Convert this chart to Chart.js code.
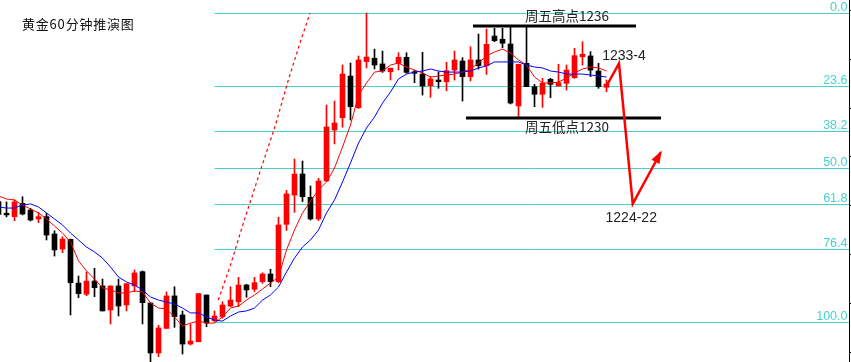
<!DOCTYPE html>
<html>
<head>
<meta charset="utf-8">
<script src="https://cdn.jsdelivr.net/npm/chart.js@4/dist/chart.umd.min.js"></script>
<style>
html,body{margin:0;padding:0;background:#fff;overflow:hidden}
canvas{display:block}
</style>
</head>
<body>
<canvas id="c" width="851" height="362"></canvas>
<script>
// ---------------- DATA ----------------
const title = '黄金60分钟推演图';
const firstIndex = -1; // index of the first (partly visible) hourly candle

const opens = [1224.55,1223.79,1223.57,1224.44,1224.00,1223.42,1223.57,1222.44,1221.46,1222.09,
  1219.24,1218.51,1219.37,1219.05,1217.48,1219.05,1217.81,1219.05,1219.98,1217.94,
  1214.68,1216.28,1218.40,1217.16,1215.26,1215.41,1218.46,1216.78,1217.05,1217.74,
  1218.02,1219.11,1218.83,1219.33,1219.83,1219.33,1223.07,1224.98,1226.35,1224.83,
  1223.42,1225.90,1229.22,1230.02,1232.74,1230.68,1233.68,1233.90,1233.53,1233.02,
  1233.56,1233.96,1233.02,1232.87,1232.11,1232.48,1232.37,1233.13,1233.72,1232.70,
  1233.79,1233.42,1235.35,1235.14,1234.83,1230.79,1233.57,1232.05,1231.55,1232.53,
  1232.09,1232.27,1232.63,1234.00,1234.05,1233.07,1232.01];
const highs = [1224.79,1224.53,1224.66,1224.87,1224.11,1223.85,1223.79,1222.65,1222.26,1222.11,
  1219.70,1219.96,1220.20,1219.50,1219.05,1219.50,1219.20,1220.09,1220.03,1217.94,
  1216.48,1218.66,1219.00,1217.42,1216.57,1218.55,1218.46,1217.42,1218.02,1219.00,
  1219.61,1219.16,1219.61,1219.91,1220.14,1223.53,1225.28,1227.33,1227.20,1225.57,
  1226.07,1230.85,1231.11,1233.46,1233.59,1234.05,1236.85,1234.50,1234.37,1233.25,
  1234.26,1234.26,1233.13,1234.29,1232.70,1233.02,1233.64,1234.37,1233.94,1234.65,
  1235.48,1235.81,1235.85,1235.85,1235.92,1233.51,1235.92,1232.20,1232.59,1232.59,
  1233.51,1233.46,1234.55,1234.98,1234.33,1233.57,1232.48];
const lows = [1223.68,1223.55,1223.31,1223.68,1223.29,1223.18,1222.05,1221.00,1221.22,1217.16,
  1218.28,1218.41,1218.35,1217.42,1216.57,1217.09,1217.42,1218.68,1216.57,1214.11,
  1214.44,1216.28,1216.35,1214.61,1215.20,1215.41,1216.39,1216.70,1216.94,1217.70,
  1217.70,1218.31,1218.68,1219.22,1219.00,1219.26,1222.67,1223.85,1224.55,1223.35,
  1223.31,1225.85,1228.31,1229.40,1229.87,1230.62,1233.27,1233.20,1232.98,1232.48,
  1233.13,1232.92,1232.31,1231.50,1231.35,1231.94,1231.78,1232.48,1231.11,1232.42,
  1233.20,1232.85,1234.98,1234.59,1230.92,1230.07,1232.05,1230.74,1230.70,1231.33,
  1232.09,1231.83,1232.59,1233.46,1232.70,1231.94,1231.72];
const closes = [1223.72,1223.68,1224.53,1223.74,1223.35,1223.57,1222.37,1221.40,1222.11,1219.26,
  1218.55,1219.37,1218.94,1217.42,1219.05,1217.74,1219.20,1219.90,1217.96,1214.68,
  1216.31,1218.40,1217.05,1215.26,1215.46,1218.55,1216.63,1217.09,1217.81,1218.13,
  1219.11,1218.79,1219.26,1219.83,1219.33,1223.03,1225.05,1226.35,1224.87,1223.42,
  1225.90,1229.42,1229.68,1232.87,1230.74,1233.79,1233.98,1233.46,1233.07,1233.25,
  1233.96,1232.98,1232.92,1232.09,1232.55,1232.37,1233.09,1233.79,1232.70,1233.79,
  1233.42,1234.81,1235.05,1234.88,1230.98,1233.51,1232.05,1231.55,1232.27,1232.20,
  1232.31,1233.13,1234.07,1234.16,1233.13,1232.05,1232.22];

// moving averages (red = fast, blue = slow)
const maFast = [1224.92,1224.72,1224.66,1224.33,1224.07,1223.81,1223.42,1222.96,1222.50,1221.92,
  1220.68,1220.03,1219.50,1218.92,1218.79,1218.59,1218.59,1218.72,1218.66,1217.94,
  1217.61,1217.55,1217.03,1216.44,1216.63,1216.76,1216.63,1216.63,1217.03,1217.61,
  1217.74,1218.13,1218.46,1218.85,1219.24,1219.63,1221.40,1222.70,1223.81,1224.59,
  1225.31,1225.83,1226.74,1228.11,1229.55,1231.50,1232.29,1233.00,1233.07,1233.46,
  1233.59,1233.33,1233.13,1232.94,1232.68,1232.74,1232.81,1232.87,1233.00,1233.20,
  1233.59,1234.05,1234.31,1234.50,1234.24,1233.79,1233.46,1232.68,1232.29,1232.29,
  1232.35,1232.61,1232.94,1233.20,1233.33,1233.27,1233.07];
const maSlow = [1224.20,1224.13,1224.13,1224.33,1224.40,1224.20,1223.81,1223.42,1223.03,1222.50,
  1222.05,1221.59,1221.27,1220.87,1220.29,1219.63,1219.31,1219.11,1218.79,1218.33,
  1218.13,1218.00,1217.87,1217.61,1217.29,1217.29,1217.03,1216.83,1216.76,1217.09,
  1217.35,1217.42,1217.61,1218.13,1218.46,1218.98,1219.96,1220.87,1221.59,1222.05,
  1222.70,1223.81,1224.66,1225.83,1227.07,1228.37,1229.35,1230.07,1230.98,1231.70,
  1232.55,1232.87,1233.00,1233.07,1233.20,1233.07,1233.00,1233.00,1233.00,1233.07,
  1233.27,1233.40,1233.66,1233.66,1233.66,1233.66,1233.46,1233.33,1233.27,1233.07,
  1233.00,1232.87,1232.87,1232.87,1232.81,1232.74,1232.68];

// Fibonacci retracement
const fibRatios = [0.0, 23.6, 38.2, 50.0, 61.8, 76.4, 100.0];
const fibHigh = 1236.85;
const fibLow = 1216.70;
const fibStartIndex = 26;

// right-axis tick marks (unlabelled)
const axisTickPrices = [1237.04, 1233.88, 1230.68, 1227.52, 1224.33, 1221.13, 1217.93, 1214.74];

// dashed red trend line
const trendX = [26.48, 27.94, 29.60, 31.90, 33.56, 35.23, 36.69, 37.94];
const trendY = [1218.13, 1220.31, 1223.14, 1226.83, 1229.44, 1232.48, 1234.90, 1236.85];

// forecast path (red arrow)
const forecastX = [75.00, 76.56, 78.28, 81.78];
const forecastY = [1232.09, 1233.57, 1224.40, 1227.77];

// Friday high / low
const fridayHigh = 1236, fridayLow = 1230;
const fridayHighSpan = [58.31, 78.69];
const fridayLowSpan = [57.44, 81.81];
const fridayHighText = '周五高点1236';
const fridayLowText = '周五低点1230';
const forecastTopText = '1233-4';
const forecastBottomText = '1224-22';

// ---------------- BUILD ----------------
const FIB_COLOR = '#48d1cc';
const idx = opens.map((_, i) => firstIndex + i);
const candleColors = idx.map((_, i) => closes[i] >= opens[i] ? '#ff0000' : '#000000');
const fibPrice = r => fibHigh - (fibHigh - fibLow) * r / 100;

const datasets = [
  {
    type: 'bar', label: 'wick',
    data: idx.map((k, i) => ({x: k, y: [lows[i], highs[i]]})),
    backgroundColor: candleColors, borderWidth: 0,
    barThickness: 1, grouped: false, minBarLength: 1, order: 10
  },
  {
    type: 'bar', label: 'body',
    data: idx.map((k, i) => ({x: k, y: [opens[i], closes[i]]})),
    backgroundColor: candleColors, borderWidth: 0,
    barThickness: 5, grouped: false, minBarLength: 1, order: 9
  },
  {
    type: 'line', label: 'MA fast',
    data: idx.map((k, i) => ({x: k, y: maFast[i]})),
    borderColor: '#ff0000', borderWidth: 1, pointRadius: 0, tension: 0, order: 8
  },
  {
    type: 'line', label: 'MA slow',
    data: idx.map((k, i) => ({x: k, y: maSlow[i]})),
    borderColor: '#0000ff', borderWidth: 1, pointRadius: 0, tension: 0, order: 7
  },
  {
    type: 'line', label: 'trend',
    data: trendX.map((k, i) => ({x: k, y: trendY[i]})),
    borderColor: '#ff0000', borderWidth: 1.2, borderDash: [3, 3], pointRadius: 0, order: 6
  },
  {
    type: 'line', label: 'friday high',
    data: fridayHighSpan.map(k => ({x: k, y: fridayHigh})),
    borderColor: '#000000', borderWidth: 3, pointRadius: 0, order: 5
  },
  {
    type: 'line', label: 'friday low',
    data: fridayLowSpan.map(k => ({x: k, y: fridayLow})),
    borderColor: '#000000', borderWidth: 3, pointRadius: 0, order: 4
  },
  {
    type: 'line', label: 'forecast',
    data: forecastX.map((k, i) => ({x: k, y: forecastY[i]})),
    borderColor: '#ff0000', borderWidth: 2.5, pointRadius: 0, tension: 0, order: 3,
    borderJoinStyle: 'miter'
  }
];

const overlay = {
  id: 'overlay',
  beforeDatasetsDraw(chart) {
    // Fibonacci retracement lines, snapped to whole pixels, under the candles
    const {ctx} = chart;
    const xs = chart.scales.x, ys = chart.scales.y;
    ctx.save();
    ctx.strokeStyle = FIB_COLOR; ctx.lineWidth = 1;
    const x0 = Math.round(xs.getPixelForValue(fibStartIndex)) - 0.5;
    fibRatios.forEach(r => {
      const yy = Math.round(ys.getPixelForValue(fibPrice(r))) + 0.5;
      ctx.beginPath(); ctx.moveTo(x0, yy); ctx.lineTo(849, yy); ctx.stroke();
    });
    ctx.restore();
  },
  afterDatasetsDraw(chart) {
    const {ctx} = chart;
    const xs = chart.scales.x, ys = chart.scales.y;
    ctx.save();

    // arrowhead at the end of the forecast path
    const n = forecastX.length;
    const tx = xs.getPixelForValue(forecastX[n - 1]), ty = ys.getPixelForValue(forecastY[n - 1]);
    const px = xs.getPixelForValue(forecastX[n - 2]), py = ys.getPixelForValue(forecastY[n - 2]);
    const ang = Math.atan2(ty - py, tx - px);
    const L = 11, W = 4.5;
    ctx.fillStyle = '#ff0000';
    ctx.beginPath();
    ctx.moveTo(tx + Math.cos(ang) * 2, ty + Math.sin(ang) * 2);
    ctx.lineTo(tx - Math.cos(ang) * L + Math.sin(ang) * W, ty - Math.sin(ang) * L - Math.cos(ang) * W);
    ctx.lineTo(tx - Math.cos(ang) * L - Math.sin(ang) * W, ty - Math.sin(ang) * L + Math.cos(ang) * W);
    ctx.closePath();
    ctx.fill();

    // right axis
    const ax = 849.5;
    ctx.strokeStyle = '#000'; ctx.lineWidth = 1;
    ctx.beginPath(); ctx.moveTo(ax, 0); ctx.lineTo(ax, chart.height); ctx.stroke();
    axisTickPrices.forEach(p => {
      const yy = Math.round(ys.getPixelForValue(p)) + 0.5;
      ctx.beginPath(); ctx.moveTo(ax, yy); ctx.lineTo(ax + 3, yy); ctx.stroke();
    });

    // fib labels
    ctx.fillStyle = FIB_COLOR;
    ctx.font = '12.5px "Liberation Sans", Arial, sans-serif';
    ctx.textAlign = 'right'; ctx.textBaseline = 'alphabetic';
    fibRatios.forEach(r => {
      const yy = Math.round(ys.getPixelForValue(fibPrice(r)));
      ctx.fillText(r.toFixed(1), 847.5, yy - 2);
    });

    // title
    ctx.fillStyle = '#111';
    ctx.textAlign = 'left'; ctx.textBaseline = 'middle';
    ctx.font = '13px "Noto Sans CJK SC", sans-serif';
    ctx.letterSpacing = '0.8px';
    ctx.fillText(title, 22, 24);
    ctx.letterSpacing = '0px';

    // Friday high/low labels
    ctx.fillStyle = '#222';
    ctx.textAlign = 'center';
    ctx.font = '13.5px "Noto Sans CJK SC", sans-serif';
    const midHigh = xs.getPixelForValue(70.06);
    ctx.fillText(fridayHighText, midHigh, ys.getPixelForValue(fridayHigh) - 10);
    ctx.fillText(fridayLowText, midHigh, ys.getPixelForValue(fridayLow) + 9);

    // forecast labels
    ctx.font = '14px "Liberation Sans", Arial, sans-serif';
    ctx.textBaseline = 'alphabetic';
    const topX = xs.getPixelForValue(forecastX[1]), topY = ys.getPixelForValue(forecastY[1]);
    ctx.fillText(forecastTopText, topX + 5, topY - 3);
    const botX = xs.getPixelForValue(forecastX[2]), botY = ys.getPixelForValue(forecastY[2]);
    ctx.fillText(forecastBottomText, botX - 1.5, botY + 18);

    ctx.restore();
  }
};

new Chart(document.getElementById('c'), {
  type: 'bar',
  data: {datasets},
  options: {
    responsive: false,
    animation: false,
    devicePixelRatio: 1,
    layout: {padding: 0},
    plugins: {legend: {display: false}, tooltip: {enabled: false}},
    scales: {
      x: {type: 'linear', display: false, offset: false, min: -0.8125, max: 105.5625},
      y: {type: 'linear', display: false, min: 1214.09, max: 1237.70, beginAtZero: false}
    }
  },
  plugins: [overlay]
});
</script>
</body>
</html>
